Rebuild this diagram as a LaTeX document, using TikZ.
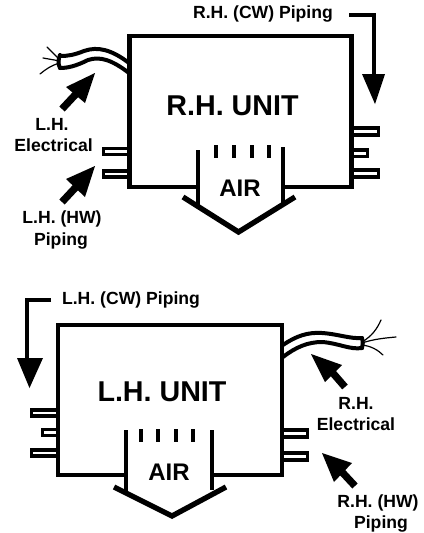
\documentclass[tikz,border=0pt]{standalone}
\usepackage{fontspec}
\setmainfont{Liberation Sans}
\tikzset{
  unitbox/.style={line width=3.2pt,line join=miter,line cap=butt},
  chevron/.style={line width=4pt,line join=miter,line cap=butt},
  vent/.style={line width=3.3pt},
  pipe/.style={line width=2.8pt,fill=white,line join=miter},
  wire/.style={line width=3pt,line cap=round},
  strand/.style={line width=0.9pt,line cap=round},
  feed/.style={line width=3.3pt,line join=miter},
  fathead/.style={fill=black,draw=none},
  fattail/.style={line width=5.5pt},
  lab/.style={font=\fontsize{13.2}{15}\bfseries\selectfont,inner sep=0pt,anchor=center},
  title/.style={font=\fontsize{21.5}{24}\bfseries\selectfont,inner sep=0pt,anchor=center},
  air/.style={font=\fontsize{18}{20}\bfseries\selectfont,inner sep=0pt,anchor=center}
}
\begin{document}
\begin{tikzpicture}[x=0.75pt,y=-0.75pt]
\useasboundingbox (0,0) rectangle (424,533);
\fill[white] (0,0) rectangle (424,533);
% ---- R.H. unit
\draw[pipe] (129,148.5) -- (103.5,148.5) -- (103.5,154.5) -- (129,154.5);
\draw[pipe] (129,171) -- (103.5,171) -- (103.5,177) -- (129,177);
\draw[pipe] (352,128) -- (378.5,128) -- (378.5,135) -- (352,135);
\draw[pipe] (352,150) -- (367.5,150) -- (367.5,156.5) -- (352,156.5);
\draw[pipe] (352,170) -- (378.5,170) -- (378.5,177) -- (352,177);
\draw[unitbox] (198,187) -- (129.5,187) -- (129.5,36) -- (351.5,36) -- (351.5,187) -- (283,187);
\draw[vent] (198,150) -- (198,206);
\draw[vent] (283,147) -- (283,204);
\draw[chevron] (183,197) -- (238.5,232) -- (295,197);
\foreach \x in {216,234,252,269} \draw[vent] (\x,145) -- (\x,158);
\draw[wire] (129,63) .. controls (112,50) and (98,46) .. (84,51) .. controls (74,55) and (68,56) .. (60,56);
\draw[wire] (129,73) .. controls (112,60) and (100,56) .. (88,60) .. controls (76,66) and (68,68) .. (60,68);
\draw[wire] (60,55) .. controls (58,60) and (58,64) .. (60,68);
\draw[strand] (60,60) -- (47,47);
\draw[strand] (60,61) -- (43,58);
\draw[strand] (60,63) .. controls (52,65) and (46,69) .. (40,74);
\node[title] (rhunit) at (232.5,106) {R.H. UNIT};
\node[air] (rhair) at (240,188) {AIR};
\node[lab] (rhcw) at (263,14) {R.H. (CW) Piping};
\coordinate (rcwa) at (349,15);
\coordinate (rcwb) at (374,76);
\draw[feed] (rcwa) -| (rcwb);
\fill[fathead] (362,74) -- (385,74) -- (375,104) -- cycle;
\fill[fathead] (95,73) -- (66,87) -- (85,103) -- cycle;
\coordinate (lea) at (62,109); \coordinate (leb) at (76,94);
\draw[fattail] (lea) -- (leb);
\node[lab] (lhe1) at (52,124) {L.H.};
\node[lab,anchor=east] (lhe2) at (93,145) {Electrical};
\fill[fathead] (95,166) -- (66,179) -- (85,197) -- cycle;
\coordinate (lha) at (62,202); \coordinate (lhb) at (76,187);
\draw[fattail] (lha) -- (lhb);
\node[lab] (lhh1) at (62,219) {L.H. (HW)};
\node[lab] (lhh2) at (61,241) {Piping};
% ---- L.H. unit
\draw[pipe] (58,410) -- (31.5,410) -- (31.5,416) -- (58,416);
\draw[pipe] (58,429.5) -- (42.5,429.5) -- (42.5,435.5) -- (58,435.5);
\draw[pipe] (58,450) -- (31.5,450) -- (31.5,456) -- (58,456);
\draw[pipe] (282,430) -- (307.5,430) -- (307.5,437) -- (282,437);
\draw[pipe] (282,453) -- (307.5,453) -- (307.5,460) -- (282,460);
\draw[unitbox] (126,475) -- (58,475) -- (58,325) -- (282,325) -- (282,475) -- (212,475);
\draw[vent] (126,430) -- (126,491);
\draw[vent] (212,430) -- (212,490);
\draw[chevron] (114,487) -- (172,516) -- (226,487);
\foreach \x in {141,158,176,193} \draw[vent] (\x,429) -- (\x,442);
\draw[wire] (283,345) .. controls (296,336) and (308,332) .. (322,333) .. controls (338,334) and (350,339) .. (362,338);
\draw[wire] (283,357) .. controls (296,347) and (308,342) .. (322,342) .. controls (338,343) and (350,350) .. (362,348);
\draw[wire] (362,338) .. controls (363,342) and (363,345) .. (362,348);
\draw[strand] (362,342) .. controls (372,336) and (377,329) .. (381,320);
\draw[strand] (362,343) .. controls (374,339) and (385,338) .. (396,337);
\draw[strand] (362,345) .. controls (371,346) and (378,350) .. (383,355);
\node[title] (lhunit) at (162,392) {L.H. UNIT};
\node[air] (lhair) at (169,472) {AIR};
\node[lab] (lhcw) at (131,300) {L.H. (CW) Piping};
\coordinate (lcwa) at (51,300);
\coordinate (lcwb) at (27,360);
\draw[feed] (lcwa) -| (lcwb);
\fill[fathead] (17,358) -- (43,358) -- (29.5,388) -- cycle;
\fill[fathead] (311,354) -- (342,365) -- (325,382) -- cycle;
\coordinate (rea) at (345,387); \coordinate (reb) at (332,372);
\draw[fattail] (rea) -- (reb);
\node[lab] (rhe1) at (356,403) {R.H.};
\node[lab] (rhe2) at (356,424) {Electrical};
\fill[fathead] (322,453) -- (352,463) -- (334,482) -- cycle;
\coordinate (rha) at (355,486); \coordinate (rhb) at (342,472);
\draw[fattail] (rha) -- (rhb);
\node[lab] (rhh1) at (378,503) {R.H. (HW)};
\node[lab] (rhh2) at (381,524) {Piping};
\end{tikzpicture}
\end{document}
